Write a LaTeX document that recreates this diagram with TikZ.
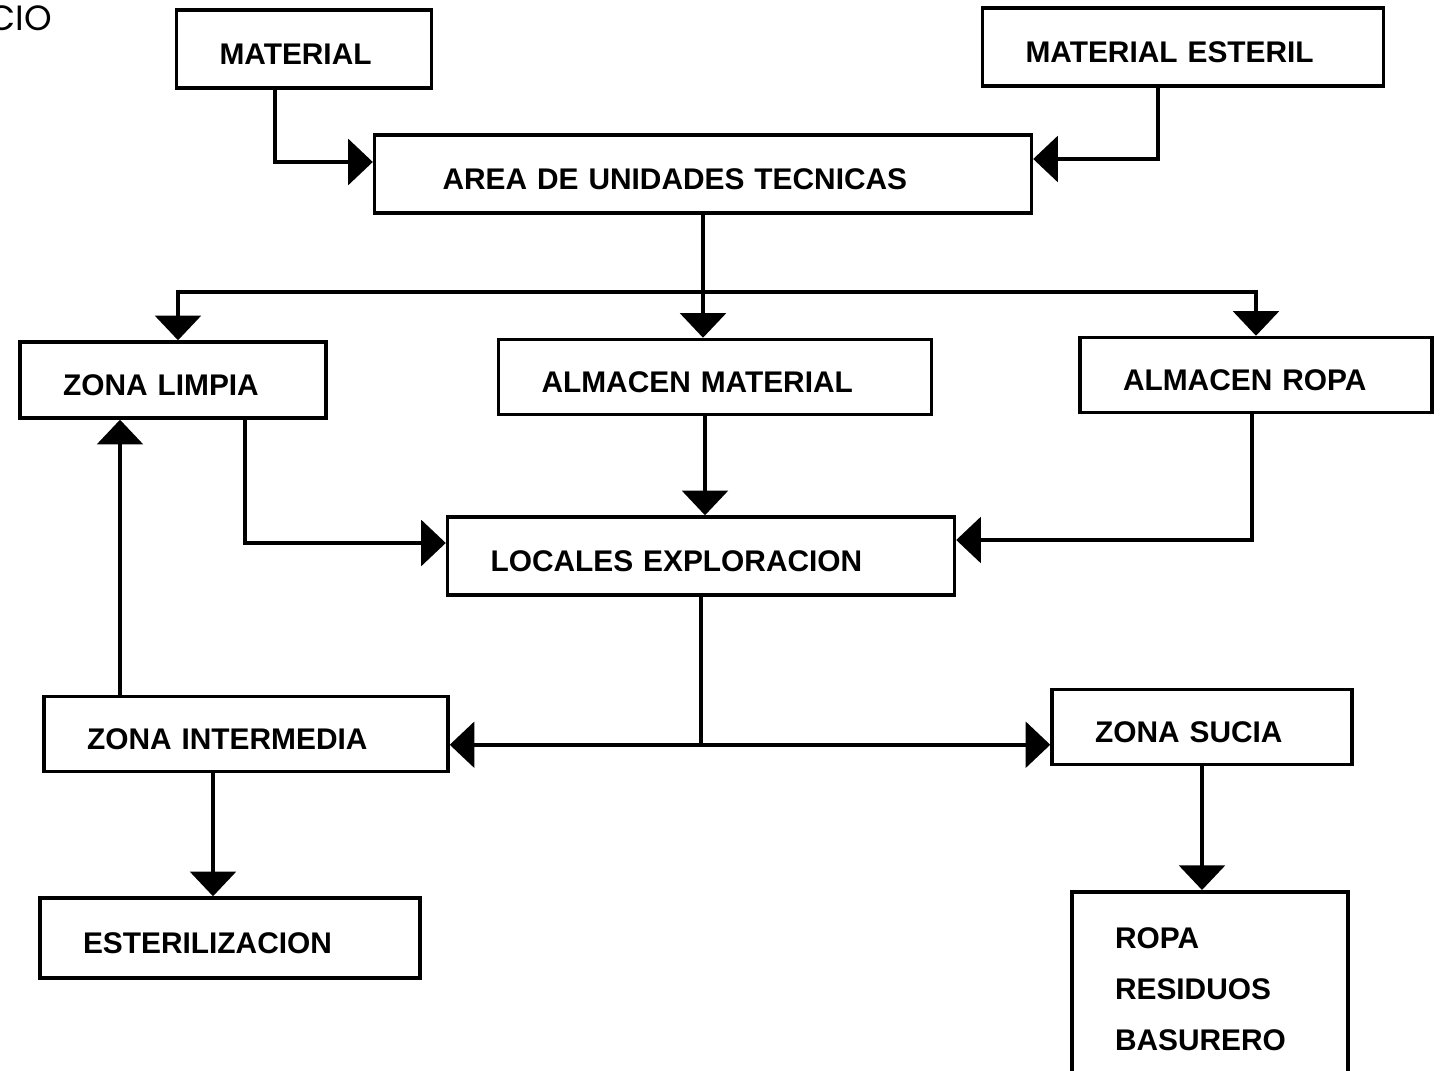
\documentclass[tikz,border=0pt]{standalone}
\usepackage{fontspec}
\setmainfont{Liberation Sans}
\newfontfamily\cabecera{Poppins}
\usetikzlibrary{arrows.meta,positioning,calc}
\tikzset{
  caja/.style={draw, line width=2pt, rectangle, align=left, inner xsep=0.86cm,
    font=\fontsize{17}{29}\selectfont\bfseries},
  fila/.style={caja, text height=18pt, text depth=0pt},
  flecha/.style={line width=2pt, -{Triangle[width=26pt,length=14pt]}},
  linea/.style={line width=2pt}
}

\begin{document}
\begin{tikzpicture}[x=0.02cm,y=-0.02cm]
  \clip (0,0) rectangle (1440,1071);
  % cut-off heading
  \node[anchor=east, font=\cabecera\fontsize{20}{24}\selectfont, inner sep=0pt] (titulo) at (52,18) {CIO};
  % top row
  \node[fila, minimum width=5.1cm, minimum height=1.56cm, text width=3.38cm] (mat) at (304,49) {MATERIAL};
  \node[fila, minimum width=8.02cm, minimum height=1.56cm, text width=6.3cm] (esteril) at (1183,47) {MATERIAL ESTERIL};
  \node[fila, minimum width=13.14cm, minimum height=1.56cm, text width=11.42cm] (area) at (703,174) {\hspace*{0.5cm}AREA DE UNIDADES TECNICAS};
  % stores and clean zone
  \node[fila, minimum width=6.12cm, minimum height=1.52cm, text width=4.4cm] (limpia) at (173,380) {ZONA LIMPIA};
  \node[fila, minimum width=8.66cm, minimum height=1.5cm, text width=6.94cm] (almmat) at (715,377) {ALMACEN MATERIAL};
  \node[fila, minimum width=7.04cm, minimum height=1.5cm, text width=5.32cm] (almropa) at (1256,375) {ALMACEN ROPA};
  \node[fila, minimum width=10.14cm, minimum height=1.56cm, text width=8.42cm] (locales) at (701,556) {LOCALES EXPLORACION};
  % lower zones
  \node[fila, minimum width=8.08cm, minimum height=1.5cm, text width=6.36cm] (intermedia) at (246,734) {ZONA INTERMEDIA};
  \node[fila, minimum width=6cm, minimum height=1.5cm, text width=4.28cm] (sucia) at (1202,727) {ZONA SUCIA};
  \node[fila, minimum width=7.6cm, minimum height=1.6cm, text width=5.88cm] (esteriliz) at (230,938) {ESTERILIZACION};
  \node[caja, anchor=north, minimum width=5.52cm, minimum height=3.9cm, text width=3.8cm] (residuos) at (1210,890) {ROPA\\RESIDUOS\\BASURERO};

  % connectors
  \draw[flecha] ($(mat.south)+(-29,0)$) |- ($(area.west)+(0,-12)$);
  \draw[flecha] ($(esteril.south)+(-25,0)$) |- ($(area.east)+(0,-15)$);
  \coordinate (rama) at ($(area.south)+(0,77)$);
  \draw[flecha] (area.south) -- (area.south |- almmat.north);
  \draw[flecha] (rama) -| ($(limpia.north)+(5,0)$);
  \draw[flecha] (rama) -| (almropa.north);
  \draw[flecha] ($(almmat.south)+(-10,0)$) coordinate (a1) -- (a1 |- locales.north);
  \draw[flecha] ($(limpia.south)+(72,0)$) |- ($(locales.west)+(0,-13)$);
  \draw[flecha] ($(almropa.south)+(-4,0)$) |- ($(locales.east)+(0,-16)$);
  \coordinate (cruce) at ($(locales.south)+(0,148)$);
  \draw[linea] (locales.south) -- (cruce);
  \draw[flecha] (cruce) -- (cruce -| intermedia.east);
  \draw[flecha] (cruce) -- (cruce -| sucia.west);
  \draw[flecha] ($(intermedia.north)+(-126,0)$) coordinate (b1) -- (b1 |- limpia.south);
  \draw[flecha] ($(intermedia.south)+(-33,0)$) coordinate (b2) -- (b2 |- esteriliz.north);
  \draw[flecha] (sucia.south) -- (sucia.south |- residuos.north);
\end{tikzpicture}
\end{document}
